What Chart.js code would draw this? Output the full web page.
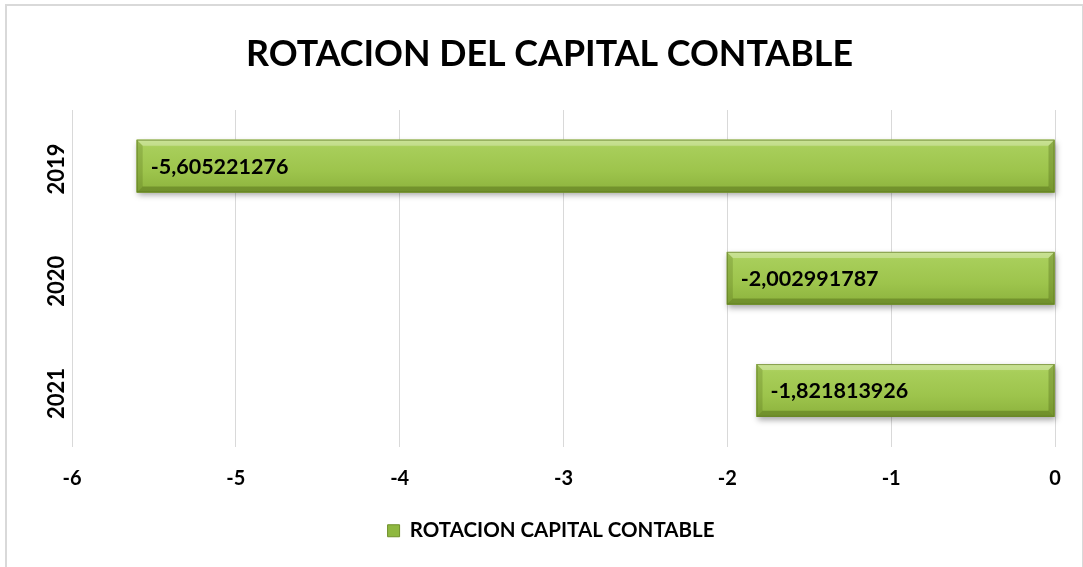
<!DOCTYPE html>
<html><head><meta charset="utf-8">
<script src="https://cdn.jsdelivr.net/npm/chart.js@4.4.0/dist/chart.umd.min.js"></script>
<style>html,body{margin:0;padding:0;background:#fff;}#wrap{position:relative;width:1083px;height:567px;}</style>
</head><body><div id="wrap"><canvas id="c" width="1083" height="567"></canvas></div>
<script>
const categories = ['2019', '2020', '2021'];
const seriesName = 'ROTACION CAPITAL CONTABLE';
const values = [-5.605221276, -2.002991787, -1.821813926];
const valueLabels = ['-5,605221276', '-2,002991787', '-1,821813926'];
const xTicks = [-6, -5, -4, -3, -2, -1, 0];
const titleText = 'ROTACION DEL CAPITAL CONTABLE';
const FONT = 'Lato, "Open Sans", sans-serif';

const framePlugin = {
  id: 'frame',
  beforeDraw(chart) {
    const ctx = chart.ctx;
    ctx.save();
    ctx.fillStyle = '#fff';
    ctx.fillRect(0, 0, chart.width, chart.height);
    ctx.strokeStyle = '#d9d9d9';
    ctx.lineWidth = 2;
    ctx.strokeRect(6, 5, chart.width - 6, chart.height - 4);
    ctx.restore();
  },
  afterLayout(chart) {
    // centre the legend on the whole frame rather than the layout box
    const lg = chart.legend;
    if (lg) { lg.left += 21; lg.right += 21; }
  },
  afterDraw(chart) {
    const ctx = chart.ctx;
    const ys = chart.scales.y;
    ctx.save();
    // chart title
    ctx.fillStyle = '#000';
    ctx.font = 'bold 35.8px ' + FONT;
    ctx.textAlign = 'center';
    ctx.textBaseline = 'middle';
    ctx.fillText(titleText, 549.5, 54);
    // rotated category labels, positioned by the category scale
    ctx.font = 'bold 22px ' + FONT;
    categories.forEach((c, i) => {
      const y = ys.getPixelForTick(i);
      ctx.save();
      ctx.translate(56.5, y + 3);
      ctx.rotate(-Math.PI / 2);
      ctx.fillText(c, 0, 0);
      ctx.restore();
    });
    ctx.restore();
  }
};

const bevelPlugin = {
  id: 'bevel',
  beforeDatasetsDraw(chart) {
    const ctx = chart.ctx;
    const meta = chart.getDatasetMeta(0);
    ctx.save();
    meta.data.forEach(el => {
      const l = Math.min(el.x, el.base), r = Math.max(el.x, el.base);
      const t = el.y - el.height / 2, b = el.y + el.height / 2;
      ctx.shadowColor = 'rgba(0,0,0,0.35)';
      ctx.shadowBlur = 6;
      ctx.shadowOffsetX = 1;
      ctx.shadowOffsetY = 3;
      ctx.fillStyle = '#86a83a';
      ctx.fillRect(l, t, r - l, b - t);
    });
    ctx.restore();
  },
  afterDatasetsDraw(chart) {
    const ctx = chart.ctx;
    const meta = chart.getDatasetMeta(0);
    ctx.save();
    meta.data.forEach((el, i) => {
      const l = Math.min(el.x, el.base), r = Math.max(el.x, el.base);
      const t = el.y - el.height / 2, b = el.y + el.height / 2;
      const h = b - t, bw = 6;
      const g = ctx.createLinearGradient(0, t, 0, b);
      g.addColorStop(0, '#b6d86c');
      g.addColorStop(0.15, '#a8ce5a');
      g.addColorStop(0.6, '#9dc44c');
      g.addColorStop(1, '#8cb23d');
      ctx.fillStyle = g;
      ctx.fillRect(l, t, r - l, h);
      ctx.fillStyle = 'rgba(255,255,255,0.28)';
      ctx.beginPath(); ctx.moveTo(l, t); ctx.lineTo(r, t); ctx.lineTo(r - bw, t + bw); ctx.lineTo(l + bw, t + bw); ctx.closePath(); ctx.fill();
      ctx.fillStyle = 'rgba(60,80,10,0.35)';
      ctx.beginPath(); ctx.moveTo(l, b); ctx.lineTo(r, b); ctx.lineTo(r - bw, b - bw); ctx.lineTo(l + bw, b - bw); ctx.closePath(); ctx.fill();
      ctx.fillStyle = 'rgba(60,80,10,0.2)';
      ctx.beginPath(); ctx.moveTo(l, t); ctx.lineTo(l + bw, t + bw); ctx.lineTo(l + bw, b - bw); ctx.lineTo(l, b); ctx.closePath(); ctx.fill();
      ctx.fillStyle = 'rgba(60,80,10,0.28)';
      ctx.beginPath(); ctx.moveTo(r, t); ctx.lineTo(r - bw, t + bw); ctx.lineTo(r - bw, b - bw); ctx.lineTo(r, b); ctx.closePath(); ctx.fill();
      ctx.strokeStyle = 'rgba(90,115,30,0.6)';
      ctx.lineWidth = 1;
      ctx.strokeRect(l + 0.5, t + 0.5, r - l - 1, h - 1);
      ctx.fillStyle = '#000';
      ctx.font = 'bold 21.5px ' + FONT;
      ctx.textAlign = 'left';
      ctx.textBaseline = 'middle';
      ctx.fillText(valueLabels[i], l + 14, el.y + 1);
    });
    ctx.restore();
  }
};

new Chart(document.getElementById('c'), {
  type: 'bar',
  data: {
    labels: categories,
    datasets: [{
      label: seriesName,
      data: values,
      backgroundColor: '#9bc24a',
      borderWidth: 0,
      categoryPercentage: 1,
      barPercentage: 0.47
    }]
  },
  options: {
    indexAxis: 'y',
    responsive: false,
    animation: false,
    devicePixelRatio: 1,
    layout: { padding: { left: 5, right: 28, top: 110, bottom: 16 } },
    scales: {
      x: {
        min: -6, max: 0,
        afterBuildTicks(s) { s.ticks = xTicks.map(v => ({ value: v })); },
        afterFit(s) { s.height = 64; },
        grid: { color: '#d9d9d9', drawTicks: false, lineWidth: 1 },
        border: { display: false },
        ticks: { padding: 20, color: '#000', font: { family: FONT, size: 20, weight: 'bold' } }
      },
      y: {
        afterFit(s) { s.width = 67; },
        grid: { display: false },
        border: { display: true, color: '#d9d9d9', width: 1 },
        ticks: { display: false }
      }
    },
    plugins: {
      title: { display: false },
      legend: {
        position: 'bottom',
        labels: {
          color: '#000', boxWidth: 12, boxHeight: 12, padding: 10,
          font: { family: FONT, size: 20.5, weight: 'bold' },
          generateLabels() {
            return [{ text: seriesName, fillStyle: '#8fb840', strokeStyle: '#6f8f2a', lineWidth: 1, hidden: false, datasetIndex: 0 }];
          }
        }
      },
      tooltip: { enabled: false }
    }
  },
  plugins: [framePlugin, bevelPlugin]
});
</script></body></html>
